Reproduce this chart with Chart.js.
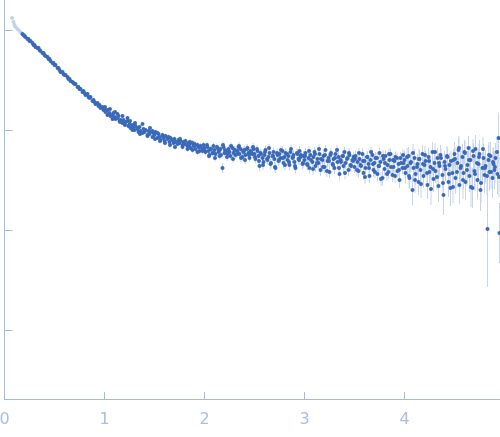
<!DOCTYPE html>
<html lang="en">
<head>
  <meta charset="UTF-8">
  <title>Scattering curve</title>
  <script src="https://cdn.jsdelivr.net/npm/chart.js"></script>
  <style>
    * { margin: 0; padding: 0; }
    html, body { width: 500px; height: 437px; overflow: hidden; background: #fff; }
    canvas { display: block; }
  </style>
</head>
<body>
  <canvas id="curve" width="500" height="437"></canvas>

  <script>
    // momentum transfer
    const q = [
      0.075,0.09,0.10,0.11,0.13,0.15,0.17,
      0.18,0.19,0.20,0.21,0.23,0.24,0.25,0.26,0.28,0.29,0.30,0.31,0.33,0.34,0.35,0.36,0.38,0.39,0.40,0.41,0.43,0.44,0.45,0.46,0.48,0.49,
      0.50,0.51,0.53,0.54,0.55,0.56,0.58,0.59,0.60,0.61,0.63,0.64,0.65,0.66,0.68,0.69,0.70,0.71,0.73,0.74,0.75,0.76,0.78,0.79,0.80,0.81,0.83,0.84,0.85,0.86,0.88,0.89,0.90,0.91,0.93,0.94,0.95,0.96,0.98,0.99,
      1.00,1.01,1.03,1.04,1.05,1.06,1.08,1.09,1.10,1.11,1.13,1.14,1.15,1.16,1.18,1.19,1.20,1.21,1.23,1.24,1.25,1.26,1.28,1.29,1.30,1.31,1.33,1.34,1.35,1.36,1.38,1.39,1.40,1.41,1.43,1.44,1.45,1.46,1.48,1.49,
      1.50,1.51,1.53,1.54,1.55,1.56,1.58,1.59,1.60,1.61,1.63,1.64,1.65,1.66,1.68,1.69,1.70,1.71,1.73,1.74,1.75,1.76,1.78,1.79,1.80,1.81,1.83,1.84,1.85,1.86,1.88,1.89,1.90,1.91,1.93,1.94,1.95,1.96,1.98,1.99,
      2.00,2.01,2.03,2.04,2.05,2.06,2.08,2.09,2.10,2.11,2.13,2.14,2.15,2.16,2.18,2.19,2.20,2.21,2.23,2.24,2.25,2.26,2.28,2.29,2.30,2.31,2.33,2.34,2.35,2.36,2.38,2.39,2.40,2.41,2.43,2.44,2.45,2.46,2.48,2.49,
      2.50,2.51,2.53,2.54,2.55,2.56,2.58,2.59,2.60,2.61,2.63,2.64,2.65,2.66,2.68,2.69,2.70,2.71,2.73,2.74,2.75,2.76,2.78,2.79,2.80,2.81,2.83,2.84,2.85,2.86,2.88,2.89,2.90,2.91,2.93,2.94,2.95,2.96,2.98,2.99,
      3.00,3.01,3.03,3.04,3.05,3.06,3.08,3.09,3.10,3.11,3.13,3.14,3.15,3.16,3.18,3.19,3.20,3.21,3.23,3.24,3.25,3.26,3.28,3.29,3.30,3.31,3.33,3.34,3.35,3.36,3.38,3.39,3.40,3.41,3.43,3.44,3.45,3.46,3.48,3.49,
      3.50,3.51,3.53,3.54,3.55,3.56,3.58,3.59,3.60,3.61,3.63,3.64,3.65,3.66,3.68,3.69,3.70,3.71,3.73,3.74,3.75,3.76,3.78,3.79,3.80,3.81,3.83,3.84,3.85,3.86,3.88,3.89,3.90,3.91,3.93,3.94,3.95,3.96,3.98,3.99,
      4.00,4.01,4.03,4.04,4.05,4.06,4.08,4.09,4.10,4.11,4.13,4.14,4.15,4.16,4.18,4.19,4.20,4.21,4.23,4.24,4.25,4.26,4.28,4.29,4.30,4.31,4.33,4.34,4.35,4.36,4.38,4.39,4.40,4.41,4.43,4.44,4.45,4.46,4.48,4.49,
      4.50,4.51,4.53,4.54,4.55,4.56,4.58,4.59,4.60,4.61,4.63,4.64,4.65,4.66,4.68,4.69,4.70,4.71,4.73,4.74,4.75,4.76,4.78,4.79,4.80,4.81,4.83,4.84,4.85,4.86,4.88,4.89,4.90,4.91,4.93,4.94,4.95,
      1.005,1.03,1.055,1.08,1.105,1.13,1.155,1.18,1.205,1.23,1.255,1.28,1.305,1.33,1.355,1.38,1.405,1.43,1.455,1.48,
      1.505,1.53,1.555,1.58,1.605,1.63,1.655,1.68,1.705,1.73,1.755,1.78,1.805,1.83,1.855,1.88,1.905,1.93,1.955,1.98,
      2.005,2.025,2.045,2.065,2.085,2.105,2.125,2.145,2.165,2.185,2.205,2.225,2.245,2.265,2.285,2.305,2.325,2.345,2.365,2.385,2.405,2.425,2.445,2.465,2.485,
      2.505,2.525,2.545,2.565,2.585,2.605,2.625,2.645,2.665,2.685,2.705,2.725,2.745,2.765,2.785,2.805,2.825,2.845,2.865,2.885,2.905,2.925,2.945,2.965,2.985,
      3.005,3.025,3.045,3.065,3.085,3.105,3.125,3.145,3.165,3.185,3.205,3.225,3.245,3.265,3.285,3.305,3.325,3.345,3.365,3.385,3.405,3.425,3.445,3.465,3.485,
      3.505,3.525,3.545,3.565,3.585,3.605,3.625,3.645,3.665,3.685,3.705,3.725,3.745,3.765,3.785,3.805,3.825,3.845,3.865,3.885,3.905,3.925,3.945,3.965,3.985,
      4.005,4.025,4.045,4.065,4.085,4.105,4.125,4.145,4.165,4.185,4.205,4.225,4.245,4.265,4.285,4.305,4.325,4.345,4.365,4.385,4.405,4.425,4.445,4.465,4.485,
      4.505,4.525,4.545,4.565,4.585,4.605,4.625,4.645,4.665,4.685,4.705,4.725,4.745,4.765,4.785,4.805,4.825,4.845,4.865,4.885,4.905,4.925,4.945
    ];

    // log10 intensity
    const logI = [
      0.12,0.08,0.05,0.03,0.01,-0.01,-0.03,
      -0.04,-0.05,-0.06,-0.07,-0.09,-0.09,-0.11,-0.11,-0.13,-0.15,-0.15,-0.17,-0.18,-0.18,-0.20,-0.21,-0.23,-0.23,-0.25,-0.26,-0.27,-0.29,-0.29,-0.31,-0.33,-0.33,
      -0.35,-0.35,-0.38,-0.38,-0.40,-0.42,-0.42,-0.44,-0.45,-0.45,-0.47,-0.49,-0.49,-0.51,-0.52,-0.53,-0.54,-0.54,-0.57,-0.57,-0.59,-0.59,-0.62,-0.61,-0.63,-0.65,-0.64,-0.67,-0.68,-0.67,-0.71,-0.70,-0.72,-0.74,-0.73,-0.76,-0.75,-0.78,-0.77,-0.80,
      -0.79,-0.82,-0.80,-0.84,-0.83,-0.86,-0.85,-0.83,-0.87,-0.89,-0.88,-0.86,-0.91,-0.90,-0.93,-0.90,-0.94,-0.92,-0.91,-0.96,-0.94,-0.98,-0.95,-0.97,-1.00,-0.96,-0.99,-1.02,-0.97,-1.01,-1.03,-0.99,-1.02,-1.00,-1.05,-1.01,-1.04,-1.02,-1.07,-1.03,
      -1.05,-1.02,-1.08,-1.04,-1.07,-1.10,-1.05,-1.08,-1.11,-1.06,-1.09,-1.07,-1.12,-1.08,-1.10,-1.13,-1.09,-1.12,-1.14,-1.10,-1.13,-1.11,-1.15,-1.12,-1.14,-1.11,-1.16,-1.13,-1.15,-1.18,-1.13,-1.16,-1.14,-1.19,-1.15,-1.17,-1.21,-1.16,-1.19,-1.15,
      -1.18,-1.22,-1.17,-1.21,-1.25,-1.19,-1.23,-1.16,-1.20,-1.24,-1.18,-1.22,-1.26,-1.19,-1.38,-1.17,-1.23,-1.21,-1.24,-1.19,-1.22,-1.26,-1.18,-1.23,-1.20,-1.25,-1.21,-1.17,-1.24,-1.19,-1.27,-1.22,-1.20,-1.25,-1.18,-1.23,-1.28,-1.21,-1.24,-1.19,
      -1.24,-1.29,-1.21,-1.26,-1.36,-1.23,-1.28,-1.32,-1.25,-1.20,-1.30,-1.27,-1.23,-1.34,-1.26,-1.22,-1.29,-1.38,-1.25,-1.31,-1.24,-1.28,-1.21,-1.33,-1.27,-1.23,-1.30,-1.26,-1.35,-1.22,-1.28,-1.25,-1.32,-1.38,-1.24,-1.29,-1.21,-1.27,-1.34,-1.26,
      -1.30,-1.23,-1.35,-1.28,-1.38,-1.25,-1.32,-1.27,-1.22,-1.36,-1.29,-1.33,-1.24,-1.40,-1.30,-1.26,-1.37,-1.20,-1.31,-1.28,-1.42,-1.25,-1.34,-1.29,-1.38,-1.24,-1.32,-1.27,-1.44,-1.30,-1.26,-1.36,-1.22,-1.33,-1.28,-1.40,-1.25,-1.35,-1.30,-1.27,
      -1.37,-1.26,-1.32,-1.41,-1.29,-1.35,-1.24,-1.43,-1.31,-1.38,-1.27,-1.34,-1.46,-1.30,-1.25,-1.40,-1.33,-1.28,-1.44,-1.36,-1.23,-1.32,-1.48,-1.29,-1.39,-1.26,-1.35,-1.42,-1.30,-1.24,-1.45,-1.37,-1.31,-1.27,-1.41,-1.34,-1.50,-1.28,-1.38,-1.33,
      -1.30,-1.43,-1.36,-1.26,-1.48,-1.33,-1.60,-1.38,-1.28,-1.44,-1.34,-1.52,-1.29,-1.40,-1.24,-1.46,-1.35,-1.31,-1.55,-1.27,-1.42,-1.37,-1.22,-1.49,-1.33,-1.41,-1.28,-1.56,-1.36,-1.25,-1.45,-1.65,-1.32,-1.39,-1.27,-1.52,-1.35,-1.58,-1.43,-1.30,
      -1.24,-1.48,-1.33,-1.20,-1.55,-1.38,-1.27,-1.43,-1.22,-1.52,-1.35,-1.18,-1.46,-1.30,-1.58,-1.26,-1.41,-1.19,-1.50,-1.34,-1.24,-1.60,-1.38,-1.28,-1.45,-1.36,-1.99,-1.30,-1.42,-1.26,-1.48,-1.34,-1.40,-1.28,-1.44,-1.08,-2.03,
      -0.77,-0.85,-0.79,-0.89,-0.82,-0.84,-0.92,-0.86,-0.95,-0.88,-0.91,-1.00,-0.93,-0.98,-1.04,-0.94,-1.00,-1.06,-0.98,-1.01,
      -1.09,-1.03,-1.11,-1.06,-1.13,-1.08,-1.15,-1.10,-1.17,-1.12,-1.09,-1.17,-1.14,-1.19,-1.12,-1.20,-1.15,-1.22,-1.17,-1.21,
      -1.21,-1.15,-1.26,-1.19,-1.23,-1.28,-1.17,-1.21,-1.25,-1.15,-1.20,-1.27,-1.22,-1.16,-1.29,-1.20,-1.24,-1.16,-1.28,-1.21,-1.30,-1.19,-1.25,-1.22,-1.17,
      -1.27,-1.19,-1.31,-1.24,-1.35,-1.22,-1.29,-1.18,-1.33,-1.26,-1.37,-1.23,-1.30,-1.20,-1.28,-1.35,-1.24,-1.32,-1.19,-1.27,-1.36,-1.23,-1.30,-1.25,-1.33,
      -1.26,-1.34,-1.21,-1.30,-1.39,-1.24,-1.33,-1.19,-1.29,-1.37,-1.25,-1.41,-1.31,-1.23,-1.35,-1.28,-1.20,-1.38,-1.32,-1.26,-1.43,-1.29,-1.23,-1.36,-1.31,
      -1.29,-1.40,-1.23,-1.36,-1.31,-1.47,-1.27,-1.38,-1.22,-1.34,-1.42,-1.28,-1.36,-1.49,-1.26,-1.33,-1.44,-1.24,-1.37,-1.30,-1.46,-1.28,-1.40,-1.33,-1.25,
      -1.38,-1.27,-1.46,-1.32,-1.23,-1.50,-1.37,-1.29,-1.54,-1.34,-1.25,-1.43,-1.31,-1.59,-1.39,-1.22,-1.47,-1.33,-1.28,-1.53,-1.36,-1.26,-1.44,-1.31,-1.57,
      -1.29,-1.42,-1.18,-1.36,-1.50,-1.23,-1.40,-1.30,-1.57,-1.21,-1.44,-1.33,-1.27,-1.53,-1.19,-1.38,-1.46,-1.25,-1.42,-1.32,-1.37,-1.22,-1.47
    ];

    // error bar half height, same units
    const logErr = [
      0.01,0.01,0.01,0.01,0.01,0.01,0.01,
      0.004,0.004,0.004,0.004,0.004,0.004,0.004,0.005,0.004,0.005,0.004,0.005,0.005,0.004,0.005,0.005,0.005,0.004,0.005,0.005,0.005,0.005,0.005,0.005,0.006,0.005,
      0.006,0.006,0.006,0.006,0.006,0.007,0.006,0.007,0.007,0.006,0.007,0.007,0.007,0.008,0.007,0.008,0.008,0.007,0.008,0.008,0.008,0.009,0.008,0.009,0.009,0.008,0.01,0.009,0.01,0.01,0.009,0.011,0.01,0.011,0.01,0.012,0.011,0.012,0.011,0.012,
      0.012,0.013,0.012,0.014,0.013,0.014,0.013,0.015,0.014,0.015,0.014,0.016,0.015,0.016,0.015,0.017,0.016,0.017,0.016,0.018,0.017,0.018,0.017,0.019,0.018,0.019,0.018,0.02,0.019,0.02,0.019,0.021,0.02,0.021,0.02,0.022,0.021,0.022,0.021,0.023,
      0.022,0.023,0.022,0.024,0.023,0.024,0.023,0.025,0.024,0.025,0.024,0.026,0.025,0.026,0.025,0.027,0.026,0.027,0.026,0.028,0.027,0.028,0.027,0.029,0.028,0.029,0.028,0.03,0.029,0.03,0.029,0.031,0.03,0.031,0.03,0.032,0.031,0.032,0.031,0.033,
      0.032,0.033,0.032,0.034,0.033,0.034,0.033,0.035,0.034,0.035,0.034,0.036,0.035,0.036,0.05,0.037,0.036,0.037,0.036,0.038,0.037,0.038,0.037,0.039,0.038,0.039,0.038,0.04,0.039,0.04,0.039,0.041,0.04,0.041,0.04,0.042,0.041,0.042,0.041,0.043,
      0.042,0.043,0.042,0.044,0.05,0.043,0.044,0.046,0.044,0.045,0.044,0.046,0.045,0.05,0.046,0.045,0.047,0.052,0.046,0.047,0.046,0.048,0.047,0.05,0.048,0.047,0.049,0.048,0.054,0.047,0.049,0.048,0.05,0.056,0.049,0.05,0.049,0.051,0.054,0.05,
      0.052,0.05,0.055,0.051,0.056,0.05,0.053,0.052,0.05,0.057,0.053,0.055,0.052,0.06,0.054,0.052,0.058,0.05,0.055,0.053,0.062,0.052,0.056,0.054,0.06,0.053,0.056,0.054,0.065,0.055,0.054,0.06,0.052,0.057,0.055,0.063,0.054,0.06,0.056,0.055,
      0.06,0.055,0.058,0.065,0.057,0.06,0.055,0.068,0.058,0.063,0.056,0.06,0.072,0.058,0.056,0.066,0.06,0.058,0.07,0.063,0.056,0.06,0.075,0.058,0.065,0.057,0.062,0.068,0.06,0.058,0.072,0.064,0.06,0.058,0.068,0.062,0.078,0.06,0.066,0.062,
      0.09,0.1,0.095,0.09,0.11,0.095,0.15,0.1,0.09,0.11,0.1,0.13,0.095,0.11,0.09,0.12,0.1,0.1,0.14,0.095,0.12,0.11,0.1,0.13,0.1,0.12,0.1,0.16,0.11,0.1,0.13,0.2,0.11,0.12,0.1,0.15,0.12,0.18,0.13,0.11,
      0.12,0.16,0.13,0.12,0.19,0.15,0.13,0.16,0.12,0.18,0.14,0.12,0.16,0.14,0.2,0.13,0.16,0.14,0.19,0.15,0.14,0.21,0.16,0.14,0.18,0.16,0.58,0.15,0.19,0.14,0.2,0.16,0.19,0.15,0.2,0.25,0.3,
      0.012,0.014,0.013,0.015,0.014,0.016,0.015,0.017,0.016,0.018,0.017,0.019,0.018,0.02,0.019,0.021,0.02,0.022,0.021,0.023,
      0.022,0.024,0.023,0.025,0.024,0.026,0.025,0.027,0.026,0.028,0.027,0.029,0.028,0.03,0.029,0.031,0.03,0.032,0.031,0.033,
      0.032,0.034,0.033,0.035,0.034,0.036,0.035,0.037,0.036,0.038,0.037,0.039,0.038,0.04,0.039,0.041,0.04,0.042,0.041,0.043,0.042,0.044,0.043,0.045,0.044,
      0.045,0.043,0.047,0.045,0.05,0.044,0.047,0.043,0.049,0.046,0.052,0.045,0.048,0.044,0.047,0.051,0.046,0.049,0.045,0.047,0.053,0.046,0.05,0.047,0.052,
      0.05,0.054,0.048,0.052,0.058,0.05,0.054,0.048,0.052,0.057,0.05,0.06,0.054,0.05,0.056,0.052,0.05,0.058,0.054,0.052,0.062,0.053,0.05,0.057,0.054,
      0.055,0.063,0.054,0.06,0.057,0.068,0.055,0.062,0.054,0.058,0.064,0.056,0.06,0.07,0.056,0.058,0.066,0.055,0.06,0.058,0.068,0.056,0.062,0.058,0.056,
      0.1,0.09,0.12,0.1,0.09,0.13,0.1,0.1,0.14,0.1,0.09,0.12,0.1,0.16,0.11,0.09,0.13,0.1,0.1,0.14,0.11,0.1,0.12,0.1,0.16,
      0.12,0.16,0.12,0.15,0.19,0.12,0.16,0.13,0.2,0.12,0.17,0.13,0.13,0.2,0.12,0.16,0.19,0.13,0.17,0.15,0.16,0.13,0.2
    ];

    // the first points are drawn pale, they are left out of the fit
    const paleCount = 7;

    const xTicks = [0, 1, 2, 3, 4];
    const yTicks = [0, -1, -2, -3];

    const axisColor = '#a3b9e6';
    const labelColor = '#a9bde7';
    const pointColor = '#3a69b9';
    const paleColor = '#c3d2ea';
    const errorColor = '#c6d5ec';

    const errorBars = {
      id: 'errorBars',
      beforeDatasetsDraw(chart) {
        const { ctx, scales } = chart;
        ctx.save();
        ctx.strokeStyle = errorColor;
        ctx.lineWidth = 1;
        ctx.beginPath();
        q.forEach((v, i) => {
          const x = scales.x.getPixelForValue(v);
          ctx.moveTo(x, scales.y.getPixelForValue(logI[i] + logErr[i]));
          ctx.lineTo(x, scales.y.getPixelForValue(logI[i] - logErr[i]));
        });
        ctx.stroke();
        ctx.restore();
      }
    };

    new Chart(document.getElementById('curve'), {
      type: 'scatter',
      data: {
        datasets: [{
          data: q.map((v, i) => ({ x: v, y: logI[i] })),
          pointRadius: 2,
          pointBorderWidth: 0,
          pointBackgroundColor: ctx => ctx.dataIndex < paleCount ? paleColor : pointColor
        }]
      },
      options: {
        responsive: false,
        animation: false,
        layout: { padding: 0, autoPadding: false },
        plugins: { legend: { display: false }, tooltip: { enabled: false } },
        scales: {
          x: {
            type: 'linear',
            min: 0,
            max: 4.955,
            afterBuildTicks: s => { s.ticks = xTicks.map(value => ({ value })); },
            afterFit: s => { s.height = 38; s.paddingLeft = 0; s.paddingRight = 0; },
            border: { color: axisColor, width: 1 },
            grid: { drawOnChartArea: false, color: axisColor, tickLength: -7 },
            ticks: {
              color: labelColor,
              padding: 18,
              maxRotation: 0,
              autoSkip: false,
              font: { family: 'DejaVu Sans', size: 16 },
              callback: v => String(v)
            }
          },
          y: {
            type: 'linear',
            min: -3.69,
            max: 0.3,
            afterBuildTicks: s => { s.ticks = yTicks.map(value => ({ value })); },
            afterFit: s => { s.width = 4.5; s.paddingTop = 0; s.paddingBottom = 0; },
            border: { color: axisColor, width: 1 },
            grid: { drawOnChartArea: false, color: axisColor, tickLength: -8 },
            ticks: { display: false }
          }
        }
      },
      plugins: [errorBars]
    });
  </script>
</body>
</html>
